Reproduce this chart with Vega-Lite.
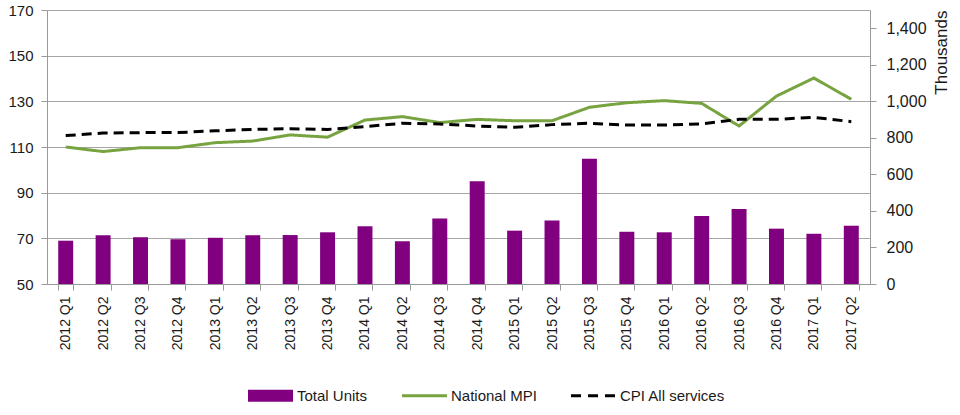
{
  "$schema": "https://vega.github.io/schema/vega-lite/v6.json",
  "width": 823,
  "height": 274,
  "autosize": {"type": "none"},
  "padding": {"left": 47, "top": 10, "right": 90, "bottom": 131},
  "background": "white",
  "config": {
    "view": {"stroke": null},
    "font": "Liberation Sans",
    "axis": {"labelColor": "#1a1a1a", "labelFont": "Liberation Sans", "titleFont": "Liberation Sans", "domainColor": "#9a9a9a", "tickColor": "#9a9a9a", "gridColor": "#a6a6a6"},
    "legend": {"title": null}
  },
  "data": {
    "values": [
      {"q": "2012 Q1", "units": 237, "mpi": 110.0, "cpi": 115.0},
      {"q": "2012 Q2", "units": 267, "mpi": 108.0, "cpi": 116.1},
      {"q": "2012 Q3", "units": 256, "mpi": 109.7, "cpi": 116.3},
      {"q": "2012 Q4", "units": 245, "mpi": 109.7, "cpi": 116.3},
      {"q": "2013 Q1", "units": 253, "mpi": 111.9, "cpi": 117.1},
      {"q": "2013 Q2", "units": 267, "mpi": 112.6, "cpi": 117.7},
      {"q": "2013 Q3", "units": 268, "mpi": 115.3, "cpi": 118.0},
      {"q": "2013 Q4", "units": 283, "mpi": 114.3, "cpi": 117.7},
      {"q": "2014 Q1", "units": 316, "mpi": 121.8, "cpi": 118.9},
      {"q": "2014 Q2", "units": 234, "mpi": 123.3, "cpi": 120.4},
      {"q": "2014 Q3", "units": 358, "mpi": 120.7, "cpi": 120.1},
      {"q": "2014 Q4", "units": 562, "mpi": 122.1, "cpi": 119.2},
      {"q": "2015 Q1", "units": 292, "mpi": 121.5, "cpi": 118.6},
      {"q": "2015 Q2", "units": 347, "mpi": 121.5, "cpi": 119.8},
      {"q": "2015 Q3", "units": 686, "mpi": 127.4, "cpi": 120.4},
      {"q": "2015 Q4", "units": 286, "mpi": 129.4, "cpi": 119.6},
      {"q": "2016 Q1", "units": 283, "mpi": 130.3, "cpi": 119.6},
      {"q": "2016 Q2", "units": 372, "mpi": 129.1, "cpi": 120.1},
      {"q": "2016 Q3", "units": 411, "mpi": 119.2, "cpi": 122.1},
      {"q": "2016 Q4", "units": 303, "mpi": 132.3, "cpi": 122.1},
      {"q": "2017 Q1", "units": 275, "mpi": 140.2, "cpi": 123.0},
      {"q": "2017 Q2", "units": 319, "mpi": 130.9, "cpi": 121.1}
    ]
  },
  "encoding": {
    "x": {
      "field": "q", "type": "nominal", "sort": null,
      "scale": {"paddingInner": 0.6, "paddingOuter": 0.3},
      "axis": {"title": null, "labelAngle": 270, "labelFontSize": 14, "tickBand": "extent", "tickSize": 6, "labelPadding": 6}
    }
  },
  "layer": [
    {
      "mark": {"type": "bar", "color": "#800080"},
      "encoding": {
        "y": {
          "field": "units", "type": "quantitative",
          "scale": {"domain": [0, 1500], "nice": false},
          "axis": {"orient": "right", "values": [0, 200, 400, 600, 800, 1000, 1200, 1400], "format": ",.0f", "grid": false, "labelFontSize": 16, "tickSize": 6, "labelPadding": 10, "title": "Thousands", "titleAngle": 270, "titleAnchor": "end", "titleFontSize": 17, "titleFontWeight": "normal", "titleColor": "#1a1a1a", "titlePadding": 24}
        },
        "color": {
          "datum": "units", "type": "nominal",
          "scale": {"domain": ["units", "mpi", "cpi"], "range": ["#800080", "#77a340", "#000000"]},
          "legend": {
            "orient": "none", "legendX": 216, "legendY": 378, "direction": "horizontal", "title": null,
            "symbolSize": 2025, "labelFontSize": 15, "labelColor": "#1a1a1a", "labelOffset": 19, "columnPadding": 28,
            "labelExpr": "datum.value == 'units' ? 'Total Units' : datum.value == 'mpi' ? 'National MPI' : 'CPI All services'",
            "symbolType": "M-1,-0.27H1V0.27H-1Z",
            "encode": {
              "symbols": {
                "update": {
                  "shape": {"signal": "datum.value == 'units' ? 'M-1,-0.27H1V0.27H-1Z' : 'M-1,0H1'"},
                  "fill": {"signal": "datum.value == 'units' ? '#800080' : 'transparent'"},
                  "stroke": {"signal": "datum.value == 'units' ? 'transparent' : (datum.value == 'mpi' ? '#77a340' : '#000000')"},
                  "strokeWidth": {"signal": "datum.value == 'units' ? 0 : 3"},
                  "strokeDash": {"signal": "datum.value == 'cpi' ? [10, 7] : [1, 0]"},
                  "opacity": {"value": 1}
                }
              }
            }
          }
        }
      }
    },
    {
      "transform": [{"fold": ["mpi", "cpi"], "as": ["key", "val"]}],
      "mark": {"type": "line", "strokeWidth": 3},
      "encoding": {
        "y": {
          "field": "val", "type": "quantitative",
          "scale": {"domain": [50, 170], "nice": false, "zero": false},
          "axis": {"orient": "left", "values": [50, 70, 90, 110, 130, 150, 170], "grid": true, "labelFontSize": 15, "tickSize": 6, "labelPadding": 8, "title": null}
        },
        "color": {"field": "key", "type": "nominal", "legend": {"title": null}},
        "strokeDash": {
          "field": "key", "type": "nominal",
          "scale": {"domain": ["mpi", "cpi"], "range": [[1, 0], [10, 6]]},
          "legend": null
        }
      }
    }
  ],
  "resolve": {"scale": {"y": "independent"}}
}
